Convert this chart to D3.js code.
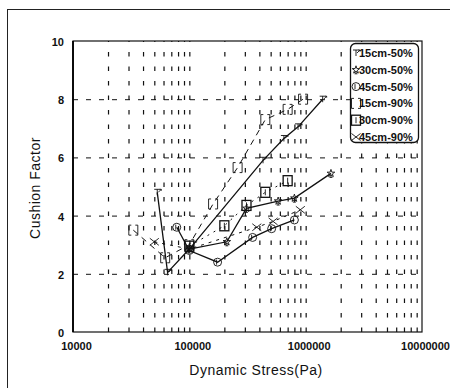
<!DOCTYPE html>
<html>
<head>
<meta charset="utf-8">
<script src="https://cdn.jsdelivr.net/npm/d3@7"></script>
<style>
  html, body { margin: 0; padding: 0; background: #fff; }
  svg { display: block; font-family: "Liberation Sans", Arial, sans-serif; }
</style>
</head>
<body>
<svg id="chart" width="450" height="388"></svg>
<script>
// Axis ticks
const xTickValues = [1e4, 1e5, 1e6, 1e7];
const xTickLabels = ["10000", "100000", "1000000", "10000000"];
const yTickValues = [0, 2, 4, 6, 8, 10];

// Series names (legend order)
const seriesNames = ["15cm-50%", "30cm-50%", "45cm-50%", "15cm-90%", "30cm-90%", "45cm-90%"];

// Dynamic stress (Pa) and cushion factor for each test condition
const stress15_50 = [53000, 65000, 100000, 430000, 650000, 860000, 1400000];
const cushion15_50 = [4.8, 2.05, 2.85, 5.9, 6.65, 7.05, 8.0];

const stress30_50 = [100000, 210000, 310000, 580000, 800000, 1650000];
const cushion30_50 = [2.85, 3.1, 4.25, 4.5, 4.6, 5.45];

const stress45_50 = [78000, 100000, 175000, 350000, 510000, 800000];
const cushion45_50 = [3.6, 2.8, 2.4, 3.25, 3.55, 3.85];

const stress15_90 = [33000, 62000, 100000, 160000, 260000, 450000, 700000, 950000];
const cushion15_90 = [3.5, 2.55, 3.0, 4.4, 5.65, 7.3, 7.65, 8.0];

const stress30_90 = [100000, 200000, 310000, 450000, 700000];
const cushion30_90 = [2.95, 3.65, 4.35, 4.8, 5.2];

const stress45_90 = [50000, 100000, 380000, 525000, 900000];
const cushion45_90 = [3.1, 2.85, 3.6, 3.8, 4.2];

const series = [
  { name: seriesNames[0], xs: stress15_50, ys: cushion15_50, dash: null, marker: "tee" },
  { name: seriesNames[1], xs: stress30_50, ys: cushion30_50, dash: null, marker: "star" },
  { name: seriesNames[2], xs: stress45_50, ys: cushion45_50, dash: null, marker: "circle" },
  { name: seriesNames[3], xs: stress15_90, ys: cushion15_90, dash: "6,5", marker: "bracket" },
  { name: seriesNames[4], xs: stress30_90, ys: cushion30_90, dash: "2,5", marker: "square" },
  { name: seriesNames[5], xs: stress45_90, ys: cushion45_90, dash: "3,5", marker: "cross" }
];

const svg = d3.select("#chart");
const plotLeft = 73, plotRight = 422, plotTop = 41, plotBottom = 332;

const x = d3.scaleLog().domain([1e4, 1e7]).range([plotLeft, plotRight]);
const y = d3.scaleLinear().domain([0, 10]).range([plotBottom, plotTop]);

// outer frame (runs past the right/bottom edge of the page)
svg.append("rect")
  .attr("x", 7.5).attr("y", 9.5).attr("width", 470).attr("height", 400)
  .attr("fill", "none").attr("stroke", "#222").attr("stroke-width", 1);

// vertical gridlines at every log tick
const minorTicks = [];
for (let e = 4; e < 7; e++) for (let m = 1; m <= 9; m++) {
  const v = m * Math.pow(10, e);
  if (v > 1e4) minorTicks.push(v);
}
svg.append("g")
  .attr("transform", `translate(0,${plotBottom})`)
  .call(d3.axisBottom(x).tickValues(minorTicks).tickSize(-(plotBottom - plotTop)).tickFormat(""))
  .call(g => g.select(".domain").remove())
  .call(g => g.selectAll("line")
    .attr("stroke", "#111").attr("stroke-width", 1.2)
    .attr("stroke-dasharray", "4.5,10"));

// horizontal gridlines
svg.append("g")
  .attr("transform", `translate(${plotLeft},0)`)
  .call(d3.axisLeft(y).tickValues([2, 4, 6, 8]).tickSize(-(plotRight - plotLeft)).tickFormat(""))
  .call(g => g.select(".domain").remove())
  .call(g => g.selectAll("line")
    .attr("stroke", "#111").attr("stroke-width", 1)
    .attr("stroke-dasharray", "5,8"));

// plot frame
svg.append("rect")
  .attr("x", plotLeft).attr("y", plotTop).attr("width", plotRight - plotLeft).attr("height", plotBottom - plotTop)
  .attr("fill", "none").attr("stroke", "#111").attr("stroke-width", 1.2);
svg.append("line")
  .attr("x1", plotLeft).attr("x2", plotLeft).attr("y1", plotTop).attr("y2", plotBottom)
  .attr("stroke", "#000").attr("stroke-width", 1.8);

// x tick labels
svg.append("g")
  .attr("transform", `translate(3,${plotBottom - 2})`)
  .call(d3.axisBottom(x).tickValues(xTickValues).tickSize(0).tickPadding(12)
    .tickFormat((d, i) => xTickLabels[i]))
  .call(g => g.select(".domain").remove())
  .call(g => g.selectAll("text")
    .attr("fill", "#111").attr("font-size", 11).attr("font-weight", "bold")
    .attr("font-family", "Liberation Sans, Arial, sans-serif"));

// y tick labels
svg.append("g")
  .attr("transform", `translate(${plotLeft - 1},1)`)
  .call(d3.axisLeft(y).tickValues(yTickValues).tickSize(0).tickPadding(8))
  .call(g => g.select(".domain").remove())
  .call(g => g.selectAll("text")
    .attr("fill", "#111").attr("font-size", 11).attr("font-weight", "bold")
    .attr("font-family", "Liberation Sans, Arial, sans-serif"));

// axis titles
svg.append("text")
  .attr("x", 256).attr("y", 375)
  .attr("text-anchor", "middle").attr("font-size", 14).attr("fill", "#111")
  .attr("letter-spacing", 0.5)
  .text("Dynamic Stress(Pa)");
svg.append("text")
  .attr("transform", "translate(40,188) rotate(-90)")
  .attr("text-anchor", "middle").attr("font-size", 14).attr("fill", "#111")
  .attr("letter-spacing", 0.5)
  .text("Cushion Factor");

// marker drawing
function drawMarker(g, type) {
  const st = { fill: "none", stroke: "#111", "stroke-width": 0.9 };
  const set = (sel) => { Object.entries(st).forEach(([k, v]) => sel.attr(k, v)); return sel; };
  if (type === "tee") {
    set(g.append("path").attr("d", "M-3,-3H3M0,-3V3M1,0L4,-3M2.5,-3H4V-1.5"));
  } else if (type === "star") {
    set(g.append("path").attr("d", d3.symbol(d3.symbolStar, 18)()));
    set(g.append("path").attr("d", "M0,1V4M-1.5,4H1.5"));
  } else if (type === "circle") {
    set(g.append("circle").attr("r", 4));
    set(g.append("path").attr("d", "M-1,-2.5V2.5"));
  } else if (type === "bracket") {
    set(g.append("path").attr("d", "M-2,-5H-4.5V5H-2M2,-5H4.5V5H2"));
  } else if (type === "square") {
    set(g.append("rect").attr("x", -4.5).attr("y", -5).attr("width", 9).attr("height", 10))
      .attr("stroke-width", 1.3);
    set(g.append("path").attr("d", "M0,-3V3"));
  } else if (type === "cross") {
    set(g.append("path").attr("d", "M-4.5,-3.5L4.5,3.5M-4.5,3.5L4.5,-3.5"));
  }
}

const line = d3.line().x(d => x(d[0])).y(d => y(d[1]));

const plot = svg.append("g");
series.forEach(s => {
  const pts = s.xs.map((v, i) => [v, s.ys[i]]);
  plot.append("path")
    .attr("d", line(pts))
    .attr("fill", "none")
    .attr("stroke", "#111")
    .attr("stroke-width", s.dash ? 1 : 1.3)
    .attr("stroke-dasharray", s.dash);
  pts.forEach(p => {
    const g = plot.append("g").attr("transform", `translate(${x(p[0])},${y(p[1])})`);
    drawMarker(g, s.marker);
  });
});

// legend
const legend = svg.append("g");
legend.append("rect")
  .attr("x", 350.5).attr("y", 43.5).attr("width", 68).attr("height", 99).attr("rx", 5)
  .attr("fill", "#fff").attr("stroke", "#111").attr("stroke-width", 1.3);
series.forEach((s, i) => {
  const yy = 53 + i * 16.8;
  const g = legend.append("g").attr("transform", `translate(356,${yy})`);
  drawMarker(g, s.marker);
  legend.append("text")
    .attr("x", 359).attr("y", yy + 4)
    .attr("font-size", 11).attr("font-weight", "bold").attr("fill", "#111")
    .text(s.name);
});
</script>
</body>
</html>
